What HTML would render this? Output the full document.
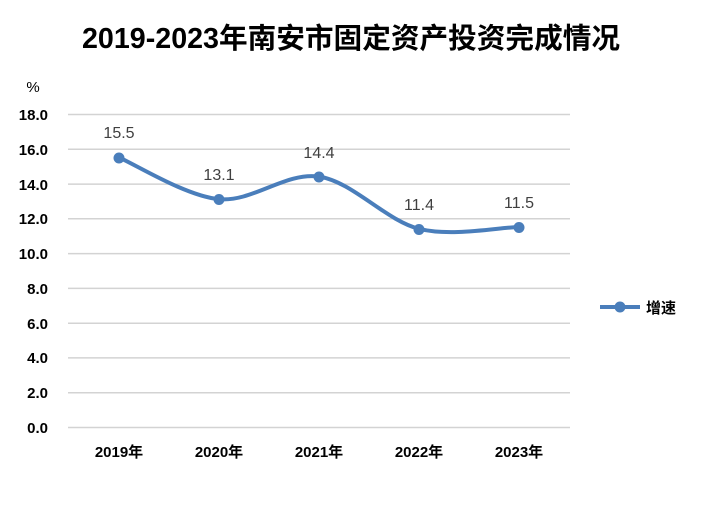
<!DOCTYPE html>
<html><head><meta charset="utf-8"><style>
body{margin:0;background:#fff;}
svg{display:block;}
</style></head><body>
<svg width="704" height="522" viewBox="0 0 704 522" xmlns="http://www.w3.org/2000/svg">
<rect width="704" height="522" fill="#fff"/>
<text x="351" y="48" text-anchor="middle" font-family="Liberation Sans, Noto Sans CJK SC, sans-serif" font-size="28.5" font-weight="bold" fill="#000" textLength="538" lengthAdjust="spacingAndGlyphs">2019-2023年南安市固定资产投资完成情况</text>
<text x="33" y="92" text-anchor="middle" font-family="Liberation Sans, sans-serif" font-size="15" fill="#000">%</text>
<g stroke="#d3d3d3" stroke-width="1.5">
<line x1="68" x2="570" y1="114.5" y2="114.5"/>
<line x1="68" x2="570" y1="149.3" y2="149.3"/>
<line x1="68" x2="570" y1="184.1" y2="184.1"/>
<line x1="68" x2="570" y1="218.8" y2="218.8"/>
<line x1="68" x2="570" y1="253.6" y2="253.6"/>
<line x1="68" x2="570" y1="288.4" y2="288.4"/>
<line x1="68" x2="570" y1="323.2" y2="323.2"/>
<line x1="68" x2="570" y1="357.9" y2="357.9"/>
<line x1="68" x2="570" y1="392.7" y2="392.7"/>
<line x1="68" x2="570" y1="427.5" y2="427.5"/>
</g>
<g font-family="Liberation Sans, sans-serif" font-size="15" font-weight="bold" fill="#000" text-anchor="end">
<text x="48" y="120">18.0</text>
<text x="48" y="155">16.0</text>
<text x="48" y="190">14.0</text>
<text x="48" y="224">12.0</text>
<text x="48" y="259">10.0</text>
<text x="48" y="294">8.0</text>
<text x="48" y="329">6.0</text>
<text x="48" y="363">4.0</text>
<text x="48" y="398">2.0</text>
<text x="48" y="433">0.0</text>
</g>
<g font-family="Liberation Sans, Noto Sans CJK SC, sans-serif" font-size="15" font-weight="bold" fill="#000" text-anchor="middle">
<text x="119" y="457">2019年</text>
<text x="219" y="457">2020年</text>
<text x="319" y="457">2021年</text>
<text x="419" y="457">2022年</text>
<text x="519" y="457">2023年</text>
</g>
<path d="M119,157.5 C135.7,164.5 185.7,196 219,199.2 C252.3,202.4 285.7,171.7 319,176.6 C352.3,181.5 385.7,220.4 419,228.8 C452.3,237.2 502.3,226.8 519,227.1" fill="none" stroke="#4a7ebb" stroke-width="4" stroke-linecap="round"/>
<g fill="#4a7ebb">
<circle cx="119" cy="158" r="5.5"/>
<circle cx="219" cy="199.5" r="5.5"/>
<circle cx="319" cy="177" r="5.5"/>
<circle cx="419" cy="229.5" r="5.5"/>
<circle cx="519" cy="227.5" r="5.5"/>
</g>
<g font-family="Liberation Sans, sans-serif" font-size="16" fill="#404040" text-anchor="middle">
<text x="119" y="138">15.5</text>
<text x="219" y="180">13.1</text>
<text x="319" y="158">14.4</text>
<text x="419" y="210">11.4</text>
<text x="519" y="208">11.5</text>
</g>
<line x1="600" x2="640" y1="307" y2="307" stroke="#4a7ebb" stroke-width="4"/>
<circle cx="620" cy="307" r="5.5" fill="#4a7ebb"/>
<text x="646" y="313" font-family="Liberation Sans, Noto Sans CJK SC, sans-serif" font-size="15" font-weight="bold" fill="#000">增速</text>
</svg>
</body></html>
